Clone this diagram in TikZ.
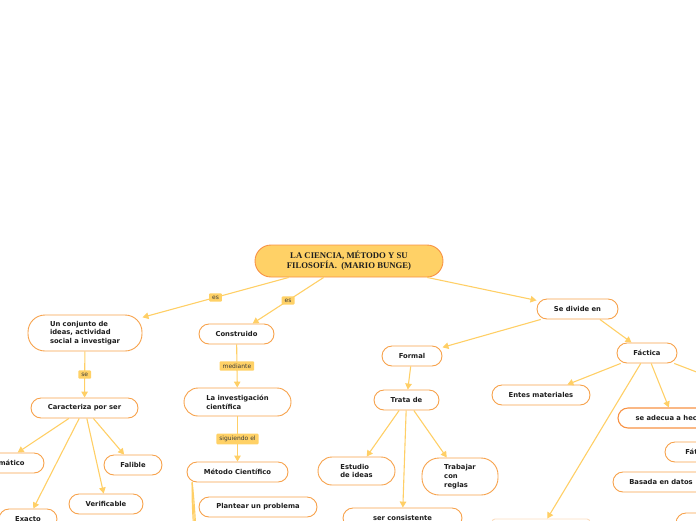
\documentclass[tikz,border=0pt]{standalone}
\usepackage{fontspec}
\usepackage{tikz}
\usetikzlibrary{arrows.meta}
\newfontfamily\dejavu{DejaVu Sans}
\newfontfamily\serifbold{Liberation Serif}
\definecolor{nodeline}{HTML}{F7A24B}
\definecolor{linkline}{HTML}{FFCF66}
\definecolor{tagfill}{HTML}{FFD166}
\definecolor{inktext}{HTML}{1E1E1E}
\definecolor{taggray}{HTML}{3C3C3C}

\begin{document}
\begin{tikzpicture}[x=1pt, y=-1pt,
  box/.style={draw=nodeline, fill=white, line width=0.9pt, rounded corners=10pt,
    minimum height=20pt, inner sep=2pt, align=left, text=inktext,
    font=\dejavu\bfseries\fontsize{6.8}{8.8}\selectfont},
  link/.style={draw=linkline, line width=1.1pt, -{Triangle[length=6pt, width=6.5pt]}},
  branch/.style={draw=linkline, line width=1.1pt},
  tag/.style={fill=tagfill, text=taggray, inner xsep=3pt, inner ysep=2.4pt,
    rounded corners=1pt, font=\dejavu\fontsize{6}{7}\selectfont}]
\useasboundingbox (0,0) rectangle (696,520);
\clip (0,0) rectangle (696,520);
% Colors
\colorlet{titlefill}{tagfill}
\colorlet{titleline}{nodeline!90!red}
% Central topic
\node[draw=titleline, fill=titlefill, line width=0.9pt, rounded corners=16pt,
  minimum width=188pt, minimum height=32pt, align=center, text=inktext,
  font=\serifbold\bfseries\fontsize{8.7}{10}\selectfont] (title) at (349,261)
  {LA CIENCIA, MÉTODO Y SU\\FILOSOFÍA.\ \ (MARIO BUNGE)};
% Topics on two or three lines
\node[box, minimum width=114pt, minimum height=36pt, rounded corners=17pt] (conjunto)
  at (85,333) {Un conjunto de\\ideas, actividad\\social a investigar};
\node[box, minimum width=107pt, minimum height=28pt, rounded corners=14pt] (investigacion)
  at (237.5,402) {La investigación\\científica};
\node[box, minimum width=77pt, minimum height=28pt, rounded corners=14pt] (estudio)
  at (356.5,471) {Estudio\\de ideas};
\node[box, minimum width=76pt, minimum height=37pt, rounded corners=17pt] (trabajar)
  at (460,476.5) {Trabajar\\con\\reglas};
% Topics on one line
\foreach \nombre/\x/\y/\w/\texto in {
    construido/236.5/334/75/Construido,
    metodo/237.5/472/101/{Método Científico},
    plantear/258/507/118/{Plantear un problema},
    caracteriza/84.5/408/107/{Caracteriza por ser},
    sistematico/2/463/84/Sistemático,
    falible/133/465/58/Falible,
    verificable/106/504/74/Verificable,
    exacto/28/519/58/Exacto,
    divide/577.5/309/81/{Se divide en},
    formal/412/356/60/Formal,
    trata/406.5/400/65/{Trata de},
    consistente/402.5/518/119/{ser consistente},
    factica/647/353/60/Fáctica,
    entes/541/395/98/{Entes materiales},
    fatica/697/452/64/Fática,
    basada/661/482/96/{Basada en datos}}{
    \node[box, minimum width=\w pt] (\nombre) at (\x,\y) {\texto};
}
\node[box, draw=nodeline!90!red, line width=1.1pt, minimum width=110pt] (adecua)
  at (673,418) {se adecua a hechos};
% Boxes cut by the lower edge
\node[box, draw=nodeline!35, rounded corners=3pt, minimum width=98pt] (abajo) at (541,529) {};
\node[box, minimum width=108pt, minimum height=30pt] (esquina) at (730,528) {};
% Free ends
\coordinate (derecha) at (720,381);
\coordinate (paso1) at (197,545);
\coordinate (paso2) at (199,580);
\coordinate (paso3) at (201,620);
% Connectors with labels
\draw[link] (title) -- node[tag] {es} (conjunto);
\draw[link] (title) -- node[tag] {es} (construido);
\draw[link] (title) -- (divide);
\draw[link] (conjunto) -- node[tag] {se} (caracteriza);
\draw[link] (construido) -- node[tag] {mediante} (investigacion);
\draw[link] (investigacion) -- node[tag] {siguiendo el} (metodo);
% Connectors without labels
\foreach \hijo in {sistematico, exacto, verificable, falible}{
    \draw[link] (caracteriza) -- (\hijo);
}
\draw[link] (divide) -- (formal);
\draw[link] (divide.-25) -- (factica.146);
\draw[link] (formal) -- (trata);
\foreach \hijo in {estudio, consistente, trabajar}{
    \draw[link] (trata) -- (\hijo);
}
\foreach \hijo in {entes, adecua, abajo, derecha}{
    \draw[link] (factica) -- (\hijo);
}
% Steps of the method
\draw[branch] (metodo.193) .. controls (194,500) .. (paso1);
\draw[branch] (metodo.193) .. controls (193,505) .. (paso2);
\draw[branch] (metodo.193) .. controls (192,510) .. (paso3);
\end{tikzpicture}
\end{document}
